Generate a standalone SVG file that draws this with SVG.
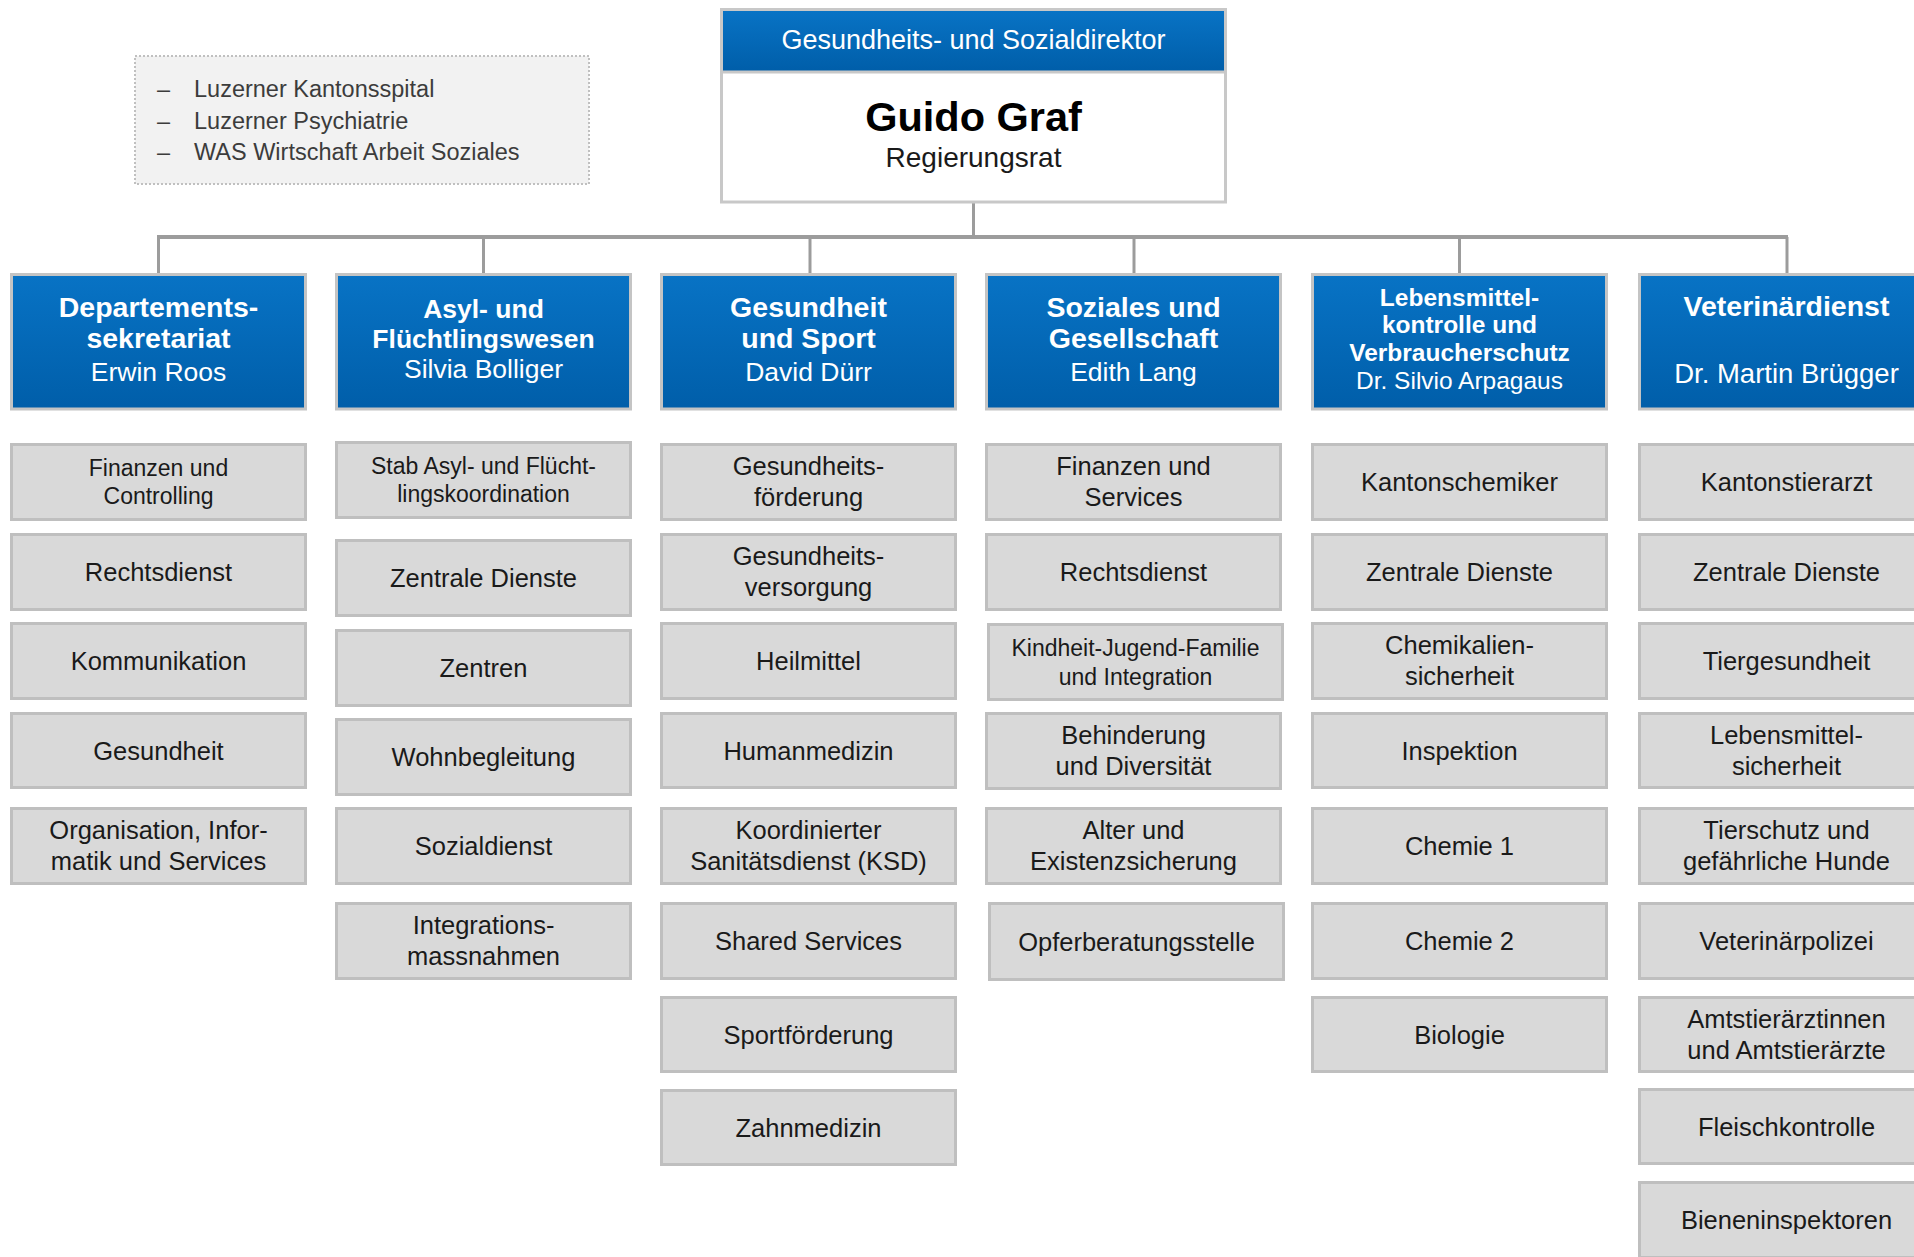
<svg xmlns="http://www.w3.org/2000/svg" width="1914" height="1257" viewBox="0 0 1914 1257">
<defs>
<linearGradient id="blue" x1="0" y1="0" x2="0" y2="1">
<stop offset="0" stop-color="#0873c5"/>
<stop offset="1" stop-color="#005ea9"/>
</linearGradient>
<style>
text{font-family:"Liberation Sans",Arial,sans-serif;text-anchor:middle}
.leg text{text-anchor:start;font-size:23.5px;fill:#3c3c3c}
.gb rect{fill:#d9d9d9;stroke:#bfbfbf;stroke-width:3}
.gb text{font-size:25.5px;fill:#1a1a1a}
.gb text.s{font-size:23px}
.db rect{fill:url(#blue);stroke:#c4c4c4;stroke-width:3}
.db text{fill:#ffffff;font-size:26.5px}
.db text.b{font-weight:bold;font-size:28.5px}
.conn line{stroke:#9c9c9c;stroke-width:3}
.conn line.bus{stroke-width:4}
</style>
</defs>
<rect width="1914" height="1257" fill="#ffffff"/>

<g id="legend" class="leg">
<rect x="135" y="56" width="454" height="128" fill="#f2f2f2" stroke="#c0c0c0" stroke-width="2" stroke-dasharray="2 2"/>
<text x="157" y="97">–</text><text x="194" y="97">Luzerner Kantonsspital</text>
<text x="157" y="128.5">–</text><text x="194" y="128.5">Luzerner Psychiatrie</text>
<text x="157" y="160">–</text><text x="194" y="160">WAS Wirtschaft Arbeit Soziales</text>
</g>

<g id="connectors" class="conn">
<line x1="973.5" y1="202" x2="973.5" y2="237"/>
<line class="bus" x1="157" y1="237" x2="1788" y2="237"/>
<line x1="158.5" y1="237" x2="158.5" y2="274"/>
<line x1="483.5" y1="237" x2="483.5" y2="274"/>
<line x1="810" y1="237" x2="810" y2="274"/>
<line x1="1134" y1="237" x2="1134" y2="274"/>
<line x1="1459.5" y1="237" x2="1459.5" y2="274"/>
<line x1="1787" y1="237" x2="1787" y2="274"/>
</g>

<g id="director">
<rect x="721.5" y="9.5" width="504" height="192.5" fill="#ffffff" stroke="#c8c8c8" stroke-width="3"/>
<rect x="723" y="11" width="501" height="60" fill="url(#blue)"/>
<line x1="721" y1="72" x2="1226" y2="72" stroke="#c8c8c8" stroke-width="3"/>
<text x="973.5" y="49" font-size="27" fill="#ffffff">Gesundheits- und Sozialdirektor</text>
<text x="973.5" y="131" font-size="41.5" font-weight="bold" fill="#000000">Guido Graf</text>
<text x="973.5" y="167" font-size="28" fill="#1a1a1a">Regierungsrat</text>
</g>

<g id="dept1" class="db"><rect x="11.5" y="274.5" width="294" height="134.5"/>
<text class="b" x="158.5" y="317">Departements-</text><text class="b" x="158.5" y="348">sekretariat</text><text x="158.5" y="381">Erwin Roos</text></g>
<g id="dept2" class="db"><rect x="336.5" y="274.5" width="294" height="134.5"/>
<text class="b" x="483.5" y="318" style="font-size:26.5px">Asyl- und</text><text class="b" x="483.5" y="348" style="font-size:26.5px">Flüchtlingswesen</text><text x="483.5" y="378">Silvia Bolliger</text></g>
<g id="dept3" class="db"><rect x="661.5" y="274.5" width="294" height="134.5"/>
<text class="b" x="808.5" y="317">Gesundheit</text><text class="b" x="808.5" y="348">und Sport</text><text x="808.5" y="381">David Dürr</text></g>
<g id="dept4" class="db"><rect x="986.5" y="274.5" width="294" height="134.5"/>
<text class="b" x="1133.5" y="317">Soziales und</text><text class="b" x="1133.5" y="348">Gesellschaft</text><text x="1133.5" y="381">Edith Lang</text></g>
<g id="dept5" class="db"><rect x="1312.5" y="274.5" width="294" height="134.5"/>
<text class="b" x="1459.5" y="306" style="font-size:24.5px">Lebensmittel-</text><text class="b" x="1459.5" y="333" style="font-size:24.5px">kontrolle und</text><text class="b" x="1459.5" y="361" style="font-size:24.5px">Verbraucherschutz</text><text x="1459.5" y="389" style="font-size:24.5px">Dr. Silvio Arpagaus</text></g>
<g id="dept6" class="db"><rect x="1639.5" y="274.5" width="294" height="134.5"/>
<text class="b" x="1786.5" y="316">Veterinärdienst</text><text x="1786.5" y="383" style="font-size:27.5px">Dr. Martin Brügger</text></g>

<g id="c1n1" class="gb"><rect x="11.5" y="444.5" width="294" height="75"/><text class="s" x="158.5" y="476">Finanzen und</text><text class="s" x="158.5" y="504">Controlling</text></g>
<g id="c1n2" class="gb"><rect x="11.5" y="534.5" width="294" height="75"/><text x="158.5" y="581">Rechtsdienst</text></g>
<g id="c1n3" class="gb"><rect x="11.5" y="623.5" width="294" height="75"/><text x="158.5" y="670">Kommunikation</text></g>
<g id="c1n4" class="gb"><rect x="11.5" y="713.5" width="294" height="74"/><text x="158.5" y="759.5">Gesundheit</text></g>
<g id="c1n5" class="gb"><rect x="11.5" y="808.5" width="294" height="75"/><text x="158.5" y="839">Organisation, Infor-</text><text x="158.5" y="870">matik und Services</text></g>

<g id="c2n1" class="gb"><rect x="336.5" y="442.5" width="294" height="75"/><text class="s" x="483.5" y="474">Stab Asyl- und Flücht-</text><text class="s" x="483.5" y="502">lingskoordination</text></g>
<g id="c2n2" class="gb"><rect x="336.5" y="540.5" width="294" height="75"/><text x="483.5" y="587">Zentrale Dienste</text></g>
<g id="c2n3" class="gb"><rect x="336.5" y="630.5" width="294" height="75"/><text x="483.5" y="677">Zentren</text></g>
<g id="c2n4" class="gb"><rect x="336.5" y="719.5" width="294" height="75"/><text x="483.5" y="766">Wohnbegleitung</text></g>
<g id="c2n5" class="gb"><rect x="336.5" y="808.5" width="294" height="75"/><text x="483.5" y="855">Sozialdienst</text></g>
<g id="c2n6" class="gb"><rect x="336.5" y="903.5" width="294" height="75"/><text x="483.5" y="934">Integrations-</text><text x="483.5" y="965">massnahmen</text></g>

<g id="c3n1" class="gb"><rect x="661.5" y="444.5" width="294" height="75"/><text x="808.5" y="475">Gesundheits-</text><text x="808.5" y="506">förderung</text></g>
<g id="c3n2" class="gb"><rect x="661.5" y="534.5" width="294" height="75"/><text x="808.5" y="565">Gesundheits-</text><text x="808.5" y="596">versorgung</text></g>
<g id="c3n3" class="gb"><rect x="661.5" y="623.5" width="294" height="75"/><text x="808.5" y="670">Heilmittel</text></g>
<g id="c3n4" class="gb"><rect x="661.5" y="713.5" width="294" height="74"/><text x="808.5" y="759.5">Humanmedizin</text></g>
<g id="c3n5" class="gb"><rect x="661.5" y="808.5" width="294" height="75"/><text x="808.5" y="839">Koordinierter</text><text x="808.5" y="870">Sanitätsdienst (KSD)</text></g>
<g id="c3n6" class="gb"><rect x="661.5" y="903.5" width="294" height="75"/><text x="808.5" y="950">Shared Services</text></g>
<g id="c3n7" class="gb"><rect x="661.5" y="997.5" width="294" height="74"/><text x="808.5" y="1043.5">Sportförderung</text></g>
<g id="c3n8" class="gb"><rect x="661.5" y="1090.5" width="294" height="74"/><text x="808.5" y="1136.5">Zahnmedizin</text></g>

<g id="c4n1" class="gb"><rect x="986.5" y="444.5" width="294" height="75"/><text x="1133.5" y="475">Finanzen und</text><text x="1133.5" y="506">Services</text></g>
<g id="c4n2" class="gb"><rect x="986.5" y="534.5" width="294" height="75"/><text x="1133.5" y="581">Rechtsdienst</text></g>
<g id="c4n3" class="gb"><rect x="988.5" y="624.5" width="294" height="75"/><text class="s" x="1135.5" y="656">Kindheit-Jugend-Familie</text><text class="s" x="1135.5" y="685">und Integration</text></g>
<g id="c4n4" class="gb"><rect x="986.5" y="713.5" width="294" height="75"/><text x="1133.5" y="744">Behinderung</text><text x="1133.5" y="775">und Diversität</text></g>
<g id="c4n5" class="gb"><rect x="986.5" y="808.5" width="294" height="75"/><text x="1133.5" y="839">Alter und</text><text x="1133.5" y="870">Existenzsicherung</text></g>
<g id="c4n6" class="gb"><rect x="989.5" y="903.5" width="294" height="76"/><text x="1136.5" y="950.5">Opferberatungsstelle</text></g>

<g id="c5n1" class="gb"><rect x="1312.5" y="444.5" width="294" height="75"/><text x="1459.5" y="491">Kantonschemiker</text></g>
<g id="c5n2" class="gb"><rect x="1312.5" y="534.5" width="294" height="75"/><text x="1459.5" y="581">Zentrale Dienste</text></g>
<g id="c5n3" class="gb"><rect x="1312.5" y="623.5" width="294" height="75"/><text x="1459.5" y="654">Chemikalien-</text><text x="1459.5" y="685">sicherheit</text></g>
<g id="c5n4" class="gb"><rect x="1312.5" y="713.5" width="294" height="74"/><text x="1459.5" y="759.5">Inspektion</text></g>
<g id="c5n5" class="gb"><rect x="1312.5" y="808.5" width="294" height="75"/><text x="1459.5" y="855">Chemie 1</text></g>
<g id="c5n6" class="gb"><rect x="1312.5" y="903.5" width="294" height="75"/><text x="1459.5" y="950">Chemie 2</text></g>
<g id="c5n7" class="gb"><rect x="1312.5" y="997.5" width="294" height="74"/><text x="1459.5" y="1043.5">Biologie</text></g>

<g id="c6n1" class="gb"><rect x="1639.5" y="444.5" width="294" height="75"/><text x="1786.5" y="491">Kantonstierarzt</text></g>
<g id="c6n2" class="gb"><rect x="1639.5" y="534.5" width="294" height="75"/><text x="1786.5" y="581">Zentrale Dienste</text></g>
<g id="c6n3" class="gb"><rect x="1639.5" y="623.5" width="294" height="75"/><text x="1786.5" y="670">Tiergesundheit</text></g>
<g id="c6n4" class="gb"><rect x="1639.5" y="713.5" width="294" height="74"/><text x="1786.5" y="743.5">Lebensmittel-</text><text x="1786.5" y="774.5">sicherheit</text></g>
<g id="c6n5" class="gb"><rect x="1639.5" y="808.5" width="294" height="75"/><text x="1786.5" y="839">Tierschutz und</text><text x="1786.5" y="870">gefährliche Hunde</text></g>
<g id="c6n6" class="gb"><rect x="1639.5" y="903.5" width="294" height="75"/><text x="1786.5" y="950">Veterinärpolizei</text></g>
<g id="c6n7" class="gb"><rect x="1639.5" y="997.5" width="294" height="74"/><text x="1786.5" y="1027.5">Amtstierärztinnen</text><text x="1786.5" y="1058.5">und Amtstierärzte</text></g>
<g id="c6n8" class="gb"><rect x="1639.5" y="1089.5" width="294" height="74"/><text x="1786.5" y="1135.5">Fleischkontrolle</text></g>
<g id="c6n9" class="gb"><rect x="1639.5" y="1182.5" width="294" height="75"/><text x="1786.5" y="1229">Bieneninspektoren</text></g>
</svg>
